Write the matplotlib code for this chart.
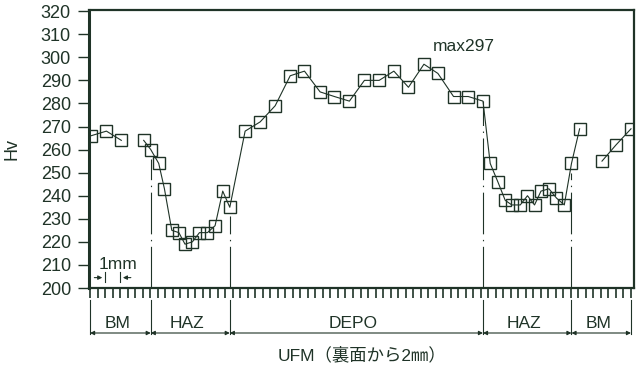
import matplotlib
matplotlib.use("Agg")
import matplotlib.pyplot as plt
import numpy as np

plt.rcParams['font.family'] = ['Liberation Sans', 'Noto Sans CJK JP', 'DejaVu Sans']
plt.rcParams['lines.scale_dashes'] = False

# ---- data (x in mm from left end, Hv values) ----
bm1_x = [0.07, 1.09, 2.08]
bm1_hv = [266, 268, 264]

mid_x = [3.57, 4.04, 4.57, 4.95, 5.44, 5.91, 6.32, 6.81, 7.28, 7.81, 8.32, 8.83, 9.30,
         10.32, 11.32, 12.32, 13.32, 14.27, 15.31, 16.26, 17.26, 18.26, 19.24, 20.22,
         21.19, 22.22, 23.15, 24.19, 25.17, 26.15,
         26.63, 27.14, 27.63, 28.07, 28.63, 29.11, 29.58, 30.01, 30.54, 31.04, 31.56,
         32.04, 32.58]
mid_hv = [264, 260, 254, 243, 225, 224, 219, 220, 224, 224, 227, 242, 235,
          268, 272, 279, 292, 294, 285, 283, 281, 290, 290, 294,
          287, 297, 293, 283, 283, 281,
          254, 246, 238, 236, 236, 240, 236, 242, 243, 239, 236,
          254, 269]

bm2_x = [34.07, 35.0, 36.0]
bm2_hv = [255, 262, 269]

zone_bounds = [0.0, 4.04, 9.30, 26.15, 32.04, 36.0]
zone_labels = ["BM", "HAZ", "DEPO", "HAZ", "BM"]
boundary_x = [4.04, 9.30, 26.15, 32.04]
boundary_top = [256, 231, 281, 250]

yticks = list(range(200, 321, 10))

ink = '#1f3327'

fig = plt.figure(figsize=(6.4, 3.74), dpi=100)
ax = fig.add_axes([89/640, 1-288/374, (634-89)/640, (288-10)/374])

for xs, ys in [(bm1_x, bm1_hv), (mid_x, mid_hv), (bm2_x, bm2_hv)]:
    ax.plot(xs, ys, color=ink, lw=0.8, marker='s', ms=8.2, mfc='none',
            mec=ink, mew=1.0)

for bx, bt in zip(boundary_x, boundary_top):
    ax.plot([bx, bx], [200, bt], color=ink, lw=0.8, linestyle=(0, (30, 4, 1, 4)))

ax.set_xlim(-0.07, 36.2)
ax.set_ylim(200, 320.5)
ax.set_yticks(yticks)
ax.set_yticklabels([str(v) for v in yticks], fontsize=13, color=ink)
ax.set_xticks(np.arange(0, 36.01, 0.5))
ax.set_xticklabels([])
ax.tick_params(axis='y', direction='out', length=8, width=1.0, color=ink, pad=5)
ax.tick_params(axis='x', direction='out', length=7, width=1.2, color=ink)
for s in ax.spines.values():
    s.set_linewidth(1.6)
    s.set_color(ink)
ax.spines['left'].set_linewidth(2.2)

ax.set_ylabel("Hv", fontsize=13, color=ink)
ax.yaxis.set_label_coords((20 - 89) / 545, 0.5)

ax.text(24.9, 304.5, "max297", fontsize=12.5, color=ink, ha='center', va='center')

# 1mm dimension
ax.text(1.87, 210.3, "1mm", fontsize=12.5, color=ink, ha='center', va='center')
for xv in [1.0, 2.0]:
    ax.plot([xv, xv], [202.5, 207.0], color=ink, lw=0.8)
ax.annotate("", xy=(1.0, 204.5), xytext=(0.1, 204.5),
            arrowprops=dict(arrowstyle='-|>', color=ink, lw=0.8, mutation_scale=6))
ax.annotate("", xy=(2.0, 204.5), xytext=(2.9, 204.5),
            arrowprops=dict(arrowstyle='-|>', color=ink, lw=0.8, mutation_scale=6))

# zone annotation below the axis
trans = ax.get_xaxis_transform()
y_top = (288 - 300) / 278
y_line = (288 - 333) / 278
y_lab = (288 - 323) / 278
for b in zone_bounds:
    ax.plot([b, b], [y_top, y_line - 0.005], transform=trans, color=ink, lw=0.8,
            clip_on=False)
for i, lab in enumerate(zone_labels):
    a, b = zone_bounds[i], zone_bounds[i + 1]
    ax.annotate("", xy=(a, y_line), xytext=(b, y_line), xycoords=trans,
                textcoords=trans,
                arrowprops=dict(arrowstyle='<|-|>', color=ink, lw=0.8,
                                mutation_scale=6, shrinkA=0, shrinkB=0),
                annotation_clip=False)
    ax.text((a + b) / 2 - 0.2, y_lab, lab, transform=trans, fontsize=12.5,
            color=ink, ha='center', va='center', clip_on=False)

fig.text(362/640, 1 - 355/374, "UFM（裏面から2㎜）", fontsize=12.5, color=ink,
         ha='center', va='center')

fig.savefig("out.png", dpi=100, facecolor='white')
